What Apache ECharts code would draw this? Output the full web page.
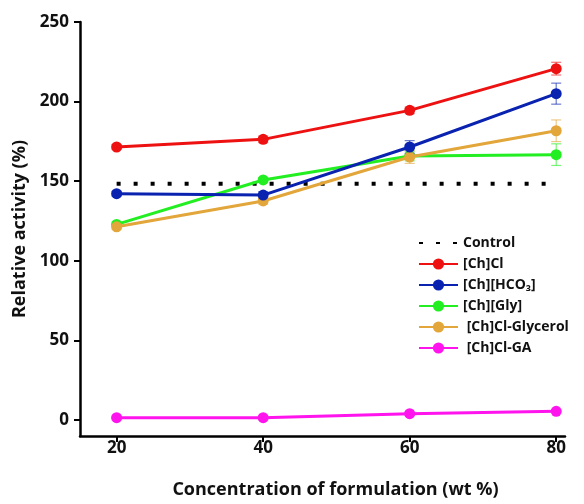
<!DOCTYPE html>
<html><head><meta charset="utf-8">
<script src="https://cdn.jsdelivr.net/npm/echarts@6/dist/echarts.min.js"></script>
<style>html,body{margin:0;padding:0;background:#fff}#c{width:584px;height:504px}</style>
</head><body><div id="c"></div>
<script>
const concentrations = [20, 40, 60, 80];
const yTicks = [0, 50, 100, 150, 200, 250];
const controlValue = 148.4;
const chCl = [171.5, 176.3, 194.5, 220.7];
const chClErr = [1.5, 2, 2, 4];
const chHCO3 = [142.2, 141.3, 171.5, 205];
const chHCO3Err = [1.5, 2, 4, 6.6];
const chGly = [122.9, 150.8, 165.8, 166.7];
const chGlyErr = [1.5, 1.5, 3, 6.8];
const chClGlycerol = [121.4, 137.6, 165.2, 181.7];
const chClGlycerolErr = [1.5, 2, 4, 6.8];
const chClGA = [1.5, 1.5, 4, 5.5];
const chClGAErr = [0.5, 0.5, 0.8, 0.8];

const seriesDefs = [
  {name: '[Ch]Cl-GA', data: chClGA, err: chClGAErr, color: '#ff14ee'},
  {name: '[Ch][Gly]', data: chGly, err: chGlyErr, color: '#22ee22'},
  {name: '[Ch]Cl-Glycerol', data: chClGlycerol, err: chClGlycerolErr, color: '#e2a63a'},
  {name: '[Ch][HCO₃]', data: chHCO3, err: chHCO3Err, color: '#0a22b0'},
  {name: '[Ch]Cl', data: chCl, err: chClErr, color: '#ee1111'}
];

const font = '"Open Sans", Lato, sans-serif';
const series = [];
series.push({
  name: 'Control', type: 'line', symbol: 'none', showSymbol: false,
  data: [[concentrations[0], controlValue], [concentrations[concentrations.length-1], controlValue]],
  lineStyle: {color: '#000', width: 4, type: [4, 13]}, itemStyle: {color: '#000'}, z: 1
});
seriesDefs.forEach((s, i) => {
  series.push({
    name: s.name + ' err', type: 'custom', z: 2 + i,
    data: concentrations.map((x, j) => [x, s.data[j] - s.err[j], s.data[j] + s.err[j]]),
    renderItem: function (params, api) {
      const lo = api.coord([api.value(0), api.value(1)]);
      const hi = api.coord([api.value(0), api.value(2)]);
      const w = 5;
      const st = {stroke: s.color, lineWidth: 1.2, opacity: 0.6};
      return {type: 'group', children: [
        {type: 'line', shape: {x1: lo[0], y1: lo[1], x2: hi[0], y2: hi[1]}, style: st},
        {type: 'line', shape: {x1: lo[0]-w, y1: lo[1], x2: lo[0]+w, y2: lo[1]}, style: st},
        {type: 'line', shape: {x1: hi[0]-w, y1: hi[1], x2: hi[0]+w, y2: hi[1]}, style: st}
      ]};
    },
    silent: true
  });
  series.push({
    name: s.name, type: 'line', z: 3 + i,
    data: concentrations.map((x, j) => [x, s.data[j]]),
    symbol: 'circle', symbolSize: 11,
    lineStyle: {color: s.color, width: 3},
    itemStyle: {color: s.color}
  });
});

const chart = echarts.init(document.getElementById('c'), null, {renderer: 'canvas'});
chart.setOption({
  animation: false,
  backgroundColor: '#fff',
  grid: {left: 80, right: 19, top: 22, bottom: 68, containLabel: false},
  legend: {
    data: [{name: 'Control', itemStyle: {opacity: 0}}, '[Ch]Cl', '[Ch][HCO₃]', '[Ch][Gly]', '[Ch]Cl-Glycerol', '[Ch]Cl-GA'],
    orient: 'vertical', left: 413, top: 231,
    itemWidth: 39, itemHeight: 14, itemGap: 7,
    formatter: function (name) {
      return (name === '[Ch]Cl-Glycerol' || name === '[Ch]Cl-GA') ? ' ' + name : name;
    },
    textStyle: {fontFamily: font, fontWeight: 'bold', fontSize: 14, color: '#111'}
  },
  xAxis: {
    type: 'value', min: 15, max: 81.2,
    name: 'Concentration of formulation (wt %)', nameLocation: 'middle', nameGap: 45,
    nameTextStyle: {fontFamily: font, fontWeight: 'bold', fontSize: 18, color: '#111', padding: [0, 0, 0, 26]},
    axisLine: {onZero: false, lineStyle: {color: '#000', width: 2.5}},
    axisTick: {show: true, length: 6, lineStyle: {color: '#000', width: 2}, customValues: concentrations},
    axisLabel: {fontFamily: font, fontWeight: 'bold', fontSize: 17, color: '#111', margin: 4, customValues: concentrations},
    splitLine: {show: false}
  },
  yAxis: {
    type: 'value', min: -10, max: 250,
    name: 'Relative activity (%)', nameLocation: 'middle', nameGap: 43,
    nameTextStyle: {fontFamily: font, fontWeight: 'bold', fontSize: 18, color: '#111'},
    axisLine: {show: true, onZero: false, lineStyle: {color: '#000', width: 2.5}},
    axisTick: {show: true, length: 6, lineStyle: {color: '#000', width: 2}, customValues: yTicks},
    axisLabel: {fontFamily: font, fontWeight: 'bold', fontSize: 17, color: '#111', margin: 11, customValues: yTicks},
    splitLine: {show: false}
  },
  series: series
});
</script></body></html>
